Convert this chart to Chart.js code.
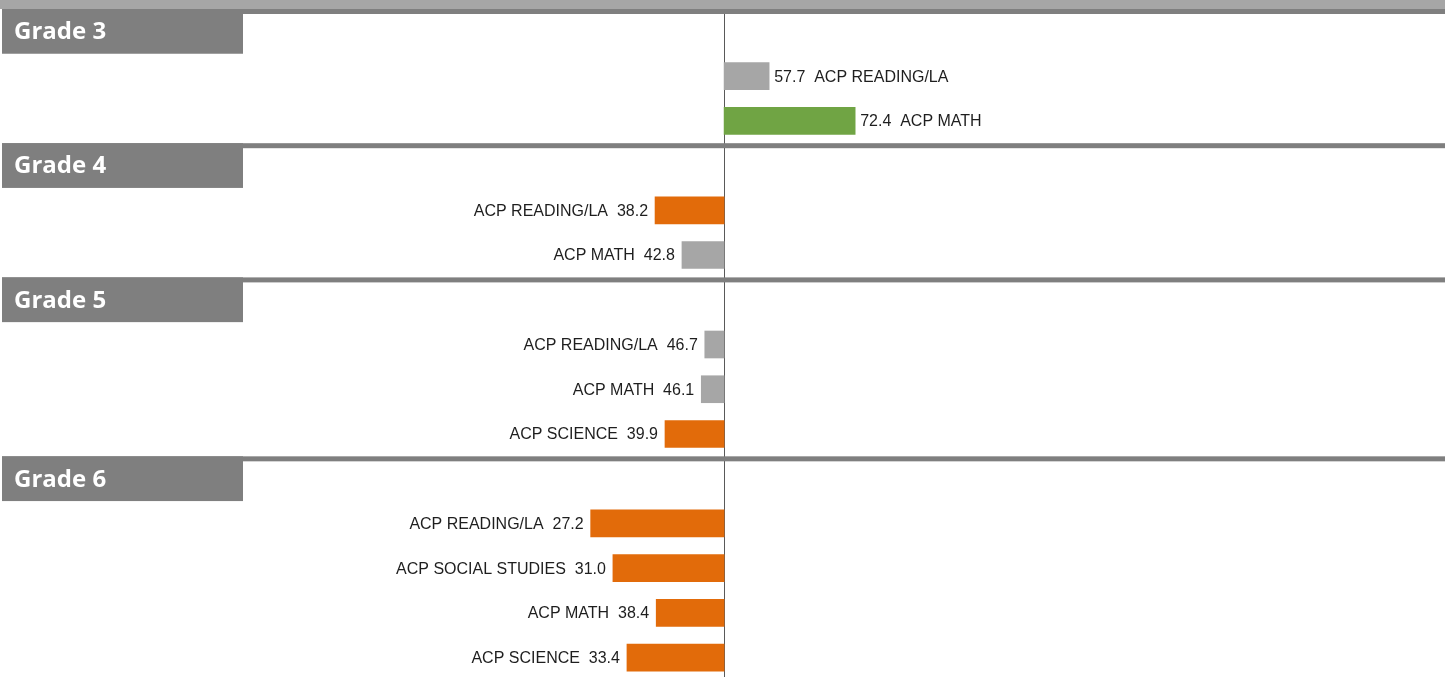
<!DOCTYPE html>
<html>
<head>
<meta charset="utf-8">
<script src="https://cdn.jsdelivr.net/npm/chart.js@4.4.1/dist/chart.umd.min.js"></script>
<style>
  html, body { margin: 0; padding: 0; background: #ffffff; overflow: hidden; }
  #wrap { width: 1452px; height: 680px; }
</style>
</head>
<body>
<div id="wrap"><canvas id="c" width="1452" height="680"></canvas></div>
<script>
// ---- data ----
const rowLabels = [
  'Grade 3', 'ACP READING/LA', 'ACP MATH',
  'Grade 4', 'ACP READING/LA', 'ACP MATH',
  'Grade 5', 'ACP READING/LA', 'ACP MATH', 'ACP SCIENCE',
  'Grade 6', 'ACP READING/LA', 'ACP SOCIAL STUDIES', 'ACP MATH', 'ACP SCIENCE'
];
const scores = [
  null, 57.7, 72.4,
  null, 38.2, 42.8,
  null, 46.7, 46.1, 39.9,
  null, 27.2, 31.0, 38.4, 33.4
];
const baseline = 50;
const xMin = -73.4;
const xMax = 173.2;

// ---- styling helpers ----
function colorFor(v) {
  if (v == null) return 'rgba(0,0,0,0)';
  if (v < 40) return '#e26b0a';
  if (v > 60) return '#70a444';
  return '#a6a6a6';
}

const decorPlugin = {
  id: 'decor',
  beforeDatasetsDraw(chart) {
    const ctx = chart.ctx, ca = chart.chartArea;
    const xs = chart.scales.x, ys = chart.scales.y;
    const slot = ys.getPixelForValue(1) - ys.getPixelForValue(0);
    ctx.save();
    // top band
    ctx.fillStyle = '#a6a6a6';
    ctx.fillRect(0, 0, ca.right, ca.top);
    // center line
    const cx = Math.round(xs.getPixelForValue(baseline)) + 0.5;
    ctx.strokeStyle = '#595959';
    ctx.lineWidth = 1;
    ctx.beginPath();
    ctx.moveTo(cx, ca.top + 5);
    ctx.lineTo(cx, chart.height);
    ctx.stroke();
    // headers
    rowLabels.forEach((lab, i) => {
      if (scores[i] != null) return;
      const cy = ys.getPixelForValue(i);
      const top = cy - slot / 2;
      ctx.fillStyle = '#7f7f7f';
      ctx.fillRect(ca.left, top, ca.right - ca.left, 5);
      ctx.fillRect(ca.left, top, 241, slot);
      ctx.fillStyle = '#ffffff';
      ctx.font = 'bold 24px "Open Sans", sans-serif';
      ctx.textAlign = 'left';
      ctx.textBaseline = 'middle';
      ctx.fillText(lab, ca.left + 12, cy + 1);
    });
    ctx.restore();
  },
  afterDatasetsDraw(chart) {
    const ctx = chart.ctx;
    const xs = chart.scales.x, ys = chart.scales.y;
    ctx.save();
    ctx.font = '16px "Liberation Sans", Arial, sans-serif';
    ctx.fillStyle = '#1e1e1e';
    ctx.textBaseline = 'middle';
    scores.forEach((v, i) => {
      if (v == null) return;
      const cy = ys.getPixelForValue(i);
      const px = xs.getPixelForValue(v);
      if (v >= baseline) {
        ctx.textAlign = 'left';
        ctx.fillText(v.toFixed(1) + '\u00a0\u00a0' + rowLabels[i], px + 5, cy + 1);
      } else {
        ctx.textAlign = 'right';
        ctx.fillText(rowLabels[i] + '\u00a0\u00a0' + v.toFixed(1), px - 7, cy + 1);
      }
    });
    ctx.restore();
  }
};

new Chart(document.getElementById('c'), {
  type: 'bar',
  data: {
    labels: rowLabels,
    datasets: [{
      data: scores.map(v => v == null ? null : [baseline, v]),
      backgroundColor: scores.map(colorFor),
      borderWidth: 0,
      barThickness: 27
    }]
  },
  options: {
    indexAxis: 'y',
    responsive: false,
    animation: false,
    layout: { padding: { left: 2, right: 7, top: 9, bottom: 0 } },
    scales: {
      x: { min: xMin, max: xMax, display: false },
      y: { display: false }
    },
    plugins: { legend: { display: false }, tooltip: { enabled: false } }
  },
  plugins: [decorPlugin]
});
</script>
</body>
</html>
